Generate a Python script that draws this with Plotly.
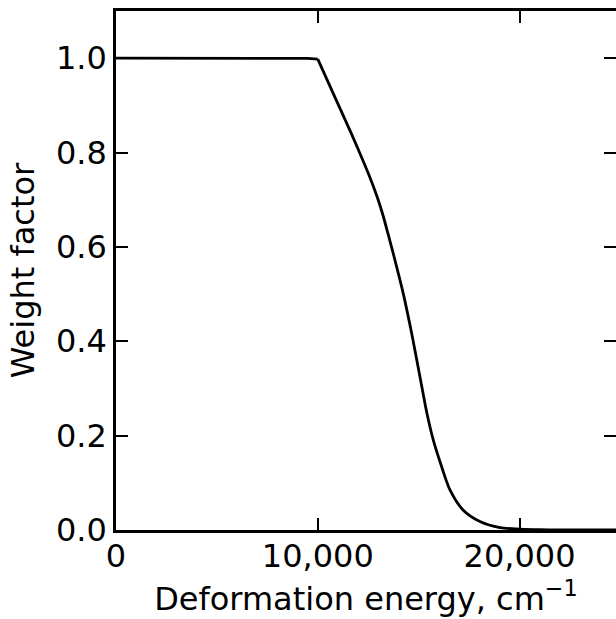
import plotly.graph_objects as go

energy = [0, 1000, 2000, 3000, 4000, 5000, 6000, 7000, 8000, 9000, 9500, 10000,
          10843, 11660, 12369, 12696, 12983, 13246, 13474, 13776, 14237, 14653,
          15064, 15396, 15723, 16140, 16551, 17210, 18038, 19029, 20020, 21000,
          22000, 23000, 24000, 25000]
weight = [1.0, 1.0, 1.0, 1.0, 1.0, 1.0, 1.0, 1.0, 1.0, 1.0, 0.9995, 0.998,
          0.918, 0.8405, 0.770, 0.735, 0.701, 0.665, 0.629, 0.580, 0.501, 0.417,
          0.325, 0.250, 0.191, 0.134, 0.085, 0.042, 0.018, 0.005, 0.002, 0.0006,
          0.0002, 0.0001, 0.0, 0.0]

x_ticks = [0, 10000, 20000]
x_tick_labels = ["0", "10,000", "20,000"]
y_ticks = [0.0, 0.2, 0.4, 0.6, 0.8, 1.0]
y_tick_labels = ["0.0", "0.2", "0.4", "0.6", "0.8", "1.0"]

FONT = "DejaVu Sans"
FS = 32
KNEE = energy.index(10000)

fig = go.Figure()
# flat part (straight) and falling part (smooth), joined at the knee
fig.add_trace(go.Scatter(x=energy[:KNEE + 1], y=weight[:KNEE + 1], mode="lines",
                         line=dict(color="black", width=2.8), showlegend=False,
                         hoverinfo="skip"))
fig.add_trace(go.Scatter(x=energy[KNEE:], y=weight[KNEE:], mode="lines",
                         line=dict(color="black", width=2.8, shape="spline",
                                   smoothing=0.8),
                         showlegend=False, hoverinfo="skip"))
# invisible trace on the secondary axis so its ticks are drawn
fig.add_trace(go.Scatter(x=[0], y=[0], yaxis="y2", mode="markers",
                         marker=dict(opacity=0), showlegend=False, hoverinfo="skip"))

fig.update_layout(
    width=616, height=619,
    margin=dict(l=116, r=0, t=11, b=89),
    paper_bgcolor="white", plot_bgcolor="white",
    font=dict(family=FONT, size=FS, color="black"),
    xaxis=dict(
        range=[0, 24780], tickvals=x_ticks, ticktext=x_tick_labels,
        ticks="inside", ticklen=12, tickwidth=1.5, tickcolor="black",
        showline=True, linewidth=2.6, linecolor="black", mirror="ticks",
        showgrid=False, zeroline=False, ticklabelstandoff=-4,
        title=dict(text="Deformation energy, cm<sup>−1</sup>", standoff=6,
                   font=dict(family=FONT, size=FS)),
        tickfont=dict(family=FONT, size=FS),
    ),
    yaxis=dict(
        range=[0, 1.1], tickvals=y_ticks, ticktext=y_tick_labels,
        ticks="inside", ticklen=12, tickwidth=1.5, tickcolor="black",
        showline=True, linewidth=2.6, linecolor="black", mirror=False,
        showgrid=False, zeroline=False,
        title=dict(text="Weight factor", standoff=12,
                   font=dict(family=FONT, size=FS)),
        tickfont=dict(family=FONT, size=FS),
    ),
    yaxis2=dict(
        overlaying="y", side="right", range=[0, 1.1], tickvals=y_ticks,
        ticks="inside", ticklen=12, tickwidth=1.5, tickcolor="black",
        showticklabels=False, showline=False, showgrid=False, zeroline=False,
    ),
)

fig.write_html("out.html")
